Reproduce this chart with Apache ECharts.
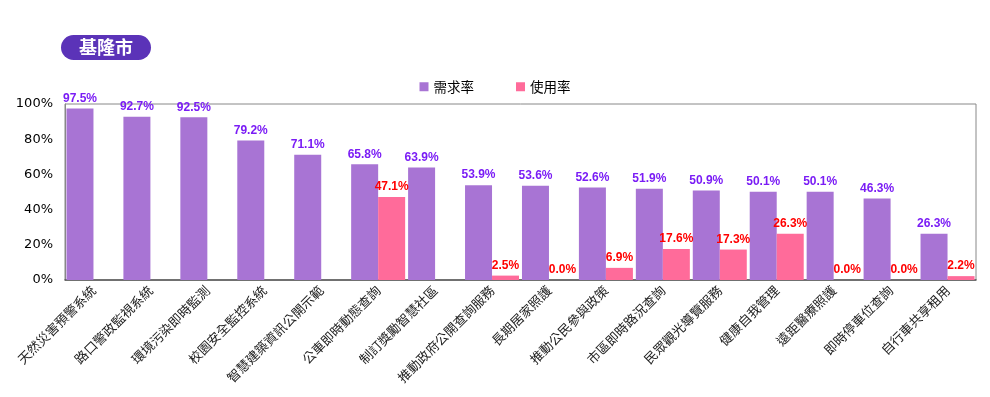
<!DOCTYPE html>
<html>
<head>
<meta charset="utf-8">
<script src="https://cdn.jsdelivr.net/npm/echarts@6/dist/echarts.min.js"></script>
<style>
  html, body { margin: 0; padding: 0; background: #fff; }
  #main { width: 990px; height: 397px; }
</style>
</head>
<body>
<div id="main"></div>
<script>
// 類別與數值
const categories = [
  '天然災害預警系統', '路口警政監視系統', '環境污染即時監測', '校園安全監控系統',
  '智慧建築資訊公開示範', '公車即時動態查詢', '制訂獎勵智慧社區', '推動政府公開查詢服務',
  '長期居家照護', '推動公民參與政策', '市區即時路況查詢', '民眾觀光導覽服務',
  '健康自我管理', '遠距醫療照護', '即時停車位查詢', '自行車共享租用'
]
const demandRate = [97.5, 92.7, 92.5, 79.2, 71.1, 65.8, 63.9, 53.9, 53.6, 52.6, 51.9, 50.9, 50.1, 50.1, 46.3, 26.3]
const usageRate = [null, null, null, null, null, 47.1, null, 2.5, 0.0, 6.9, 17.6, 17.3, 26.3, 0.0, 0.0, 2.2]
const yTicks = [0, 20, 40, 60, 80, 100]

const myChart = echarts.init(document.getElementById('main'))
myChart.setOption({
    animation: false,
    textStyle: { fontFamily: '"Noto Sans CJK TC", sans-serif' },
    title: {
        text: '基隆市',
        left: 61,
        top: 35,
        backgroundColor: '#5b33b8',
        borderRadius: 13,
        padding: [2, 18, 2, 18],
        textStyle: { color: '#fff', fontSize: 18, fontWeight: 'bold', lineHeight: 21 }
    },
    legend: {
        top: 75,
        left: 'center',
        itemGap: 42,
        itemWidth: 9,
        itemHeight: 9,
        icon: 'rect',
        textStyle: { color: '#000', fontSize: 13.5 }
    },
    grid: {
        left: 65, right: 14, top: 104, bottom: 117,
        show: true, borderColor: '#888', borderWidth: 1
    },
    xAxis: {
        type: 'category',
        data: categories,
        axisLine: { lineStyle: { color: '#555', width: 1.5 } },
        axisTick: { show: false },
        axisLabel: { rotate: 45, interval: 0, color: '#222', fontSize: 13, margin: 8 }
    },
    yAxis: {
        type: 'value',
        min: yTicks[0],
        max: yTicks[yTicks.length - 1],
        interval: 20,
        splitLine: { show: false },
        axisLine: { show: true, lineStyle: { color: '#888' } },
        axisTick: { show: false },
        axisLabel: {
            formatter: '{value}%', color: '#000', fontSize: 13, margin: 12,
            fontFamily: 'DejaVu Sans'
        }
    },
    series: [
        {
            name: '需求率',
            type: 'bar',
            data: demandRate,
            barWidth: 27,
            barGap: '0%',
            itemStyle: { color: '#a874d4' },
            label: {
                show: true, position: 'top', distance: 4,
                formatter: p => p.value.toFixed(1) + '%',
                color: '#7a1cf5', fontWeight: 'bold', fontSize: 12,
                fontFamily: 'Liberation Sans'
            }
        },
        {
            name: '使用率',
            type: 'bar',
            data: usageRate,
            barWidth: 27,
            itemStyle: { color: '#ff6b9a' },
            label: {
                show: true, position: 'top', distance: 4,
                formatter: p => p.value == null ? '' : p.value.toFixed(1) + '%',
                color: '#ff0000', fontWeight: 'bold', fontSize: 12,
                fontFamily: 'Liberation Sans'
            }
        }
    ]
})
</script>
</body>
</html>
